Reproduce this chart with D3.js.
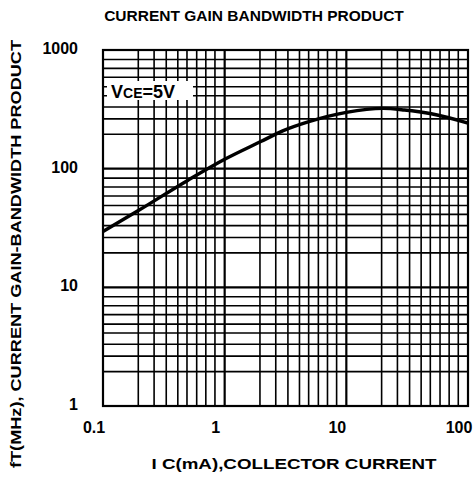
<!DOCTYPE html>
<html><head><meta charset="utf-8">
<script src="https://cdn.jsdelivr.net/npm/d3@7"></script>
<style>
html,body{margin:0;padding:0;background:#fff;}
svg text{font-family:"Liberation Sans",Arial,sans-serif;font-weight:bold;fill:#000;}
</style></head>
<body>
<svg id="chart" width="474" height="478"></svg>
<script>
// Data
const collectorCurrent = [0.1, 0.2, 0.5, 1, 2, 3, 5, 10, 20, 30, 50, 100];      // Ic (mA)
const gainBandwidth    = [29.5, 45, 80, 120, 170, 208, 250, 298, 322, 312, 290, 242]; // fT (MHz)
const xTickValues = [0.1, 1, 10, 100];
const xTickLabels = ["0.1", "1", "10", "100"];
const yTickValues = [1, 10, 100, 1000];
const yTickLabels = ["1", "10", "100", "1000"];
const xDecades = [0.1, 1, 10];
const yDecades = [1, 10, 100];
const gridMultipliers = [1.95, 2.63, 3.31, 4.12, 4.9, 5.89, 7.0, 8.32];

const svg = d3.select("#chart");
const m = {left:103, right:468, top:50, bottom:406};

const x = d3.scaleLog().domain([0.1, 100]).range([m.left, m.right]);
const y = d3.scaleLog().domain([1, 1000]).range([m.bottom, m.top]);

const xGrid = [];
xDecades.forEach(d => { gridMultipliers.forEach(k => xGrid.push({v:d*k, major:false})); xGrid.push({v:d*10, major:true}); });
const yGrid = [];
yDecades.forEach(d => { gridMultipliers.forEach(k => yGrid.push({v:d*k, major:false})); yGrid.push({v:d*10, major:true}); });

const g = svg.append("g");
g.selectAll("line.vx").data(xGrid.filter(d => d.v < 100)).enter().append("line")
  .attr("x1", d => x(d.v)).attr("x2", d => x(d.v))
  .attr("y1", m.top).attr("y2", m.bottom)
  .attr("stroke", "#000").attr("stroke-width", d => d.major ? 2.2 : 1.6);
g.selectAll("line.hy").data(yGrid.filter(d => d.v < 1000)).enter().append("line")
  .attr("y1", d => y(d.v)).attr("y2", d => y(d.v))
  .attr("x1", m.left).attr("x2", m.right)
  .attr("stroke", "#000").attr("stroke-width", d => d.major ? 2.2 : 1.6);

// frame
svg.append("rect").attr("x", m.left).attr("y", m.top)
  .attr("width", m.right - m.left).attr("height", m.bottom - m.top)
  .attr("fill", "none").attr("stroke", "#000").attr("stroke-width", 2.2);

// curve
const line = d3.line().x((d,i) => x(collectorCurrent[i])).y(d => y(d)).curve(d3.curveMonotoneX);
svg.append("path").datum(gainBandwidth).attr("d", line)
  .attr("fill", "none").attr("stroke", "#000").attr("stroke-width", 3.4).attr("stroke-linecap","butt");

// VCE label
svg.append("rect").attr("x", 107).attr("y", 81).attr("width", 86).attr("height", 19).attr("fill", "#fff");
const vt = svg.append("text").attr("x", 111).attr("y", 98).style("font-size", "18px");
vt.append("tspan").text("V");
vt.append("tspan").style("font-size", "14px").text("CE");
vt.append("tspan").text("=5V");

// axis tick labels
svg.selectAll("text.xt").data(xTickValues).enter().append("text")
  .attr("x", d => x(d) - 9).attr("y", 433).attr("text-anchor", "middle")
  .style("font-size", "16px").text((d,i) => xTickLabels[i]);
svg.selectAll("text.yt").data(yTickValues).enter().append("text")
  .attr("x", 78).attr("y", d => y(d) + 4).attr("text-anchor", "end")
  .style("font-size", "16px").text((d,i) => yTickLabels[i]);

// titles
svg.append("text").attr("x", 254).attr("y", 21).attr("text-anchor", "middle")
  .style("font-size", "15.5px").text("CURRENT GAIN BANDWIDTH PRODUCT");
svg.append("text").attr("x", 294).attr("y", 469).attr("text-anchor", "middle")
  .style("font-size", "15px").attr("textLength", 285).attr("lengthAdjust", "spacingAndGlyphs")
  .text("I C(mA),COLLECTOR CURRENT");
svg.append("text").attr("transform", "translate(21,254) rotate(-90)").attr("text-anchor", "middle")
  .style("font-size", "15px").attr("textLength", 428).attr("lengthAdjust", "spacingAndGlyphs")
  .text("fT(MHz), CURRENT GAIN-BANDWIDTH PRODUCT");
</script>
</body></html>
